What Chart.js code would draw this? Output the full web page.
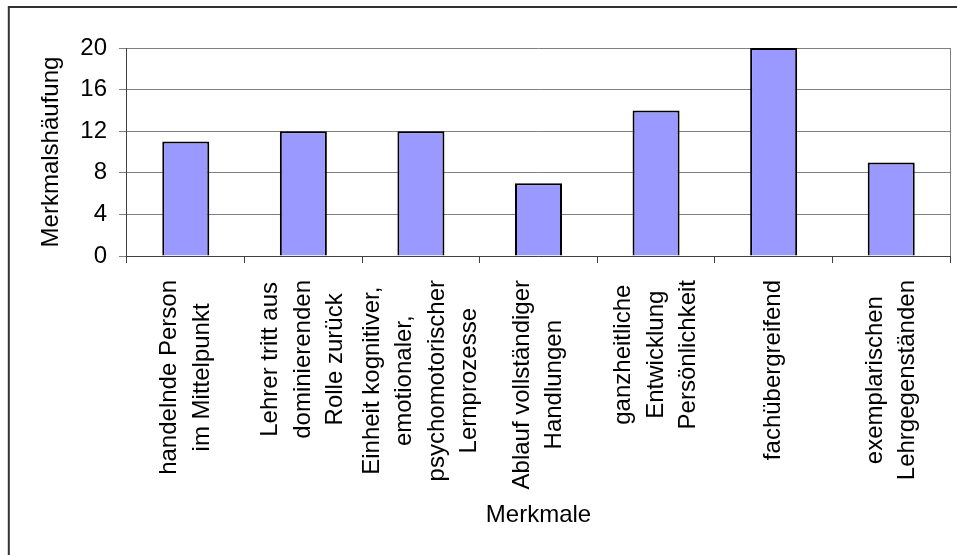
<!DOCTYPE html>
<html>
<head>
<meta charset="utf-8">
<script src="https://cdn.jsdelivr.net/npm/chart.js@4/dist/chart.umd.min.js"></script>
<style>
  html, body { margin: 0; padding: 0; background: #fff; }
  canvas { display: block; }
</style>
</head>
<body>
<canvas id="chart" width="957" height="555"></canvas>
<script>
// Categories (each entry is one label, split into its lines)
const categories = [
  ['handelnde Person', 'im Mittelpunkt'],
  ['Lehrer tritt aus', 'dominierenden', 'Rolle zurück'],
  ['Einheit kognitiver,', 'emotionaler,', 'psychomotorischer', 'Lernprozesse'],
  ['Ablauf vollständiger', 'Handlungen'],
  ['ganzheitliche', 'Entwicklung', 'Persönlichkeit'],
  ['fachübergreifend'],
  ['exemplarischen', 'Lehrgegenständen']
];
// How often each feature was counted
const counts = [11, 12, 12, 7, 14, 20, 9];
// Value axis ticks
const yTicks = [0, 4, 8, 12, 16, 20];
const yTitle = 'Merkmalshäufung';
const xTitle = 'Merkmale';

const FONT_FAMILY = '"Liberation Sans", Arial, sans-serif';
Chart.defaults.font.family = FONT_FAMILY;
Chart.defaults.font.size = 24;
Chart.defaults.color = '#000';

// White page background and the outer frame (top and left edge)
const frame = {
  id: 'frame',
  beforeDraw(chart) {
    const { ctx, width, height } = chart;
    ctx.save();
    ctx.fillStyle = '#fff';
    ctx.fillRect(0, 0, width, height);
    ctx.strokeStyle = '#333';
    ctx.lineWidth = 2;
    ctx.beginPath();
    ctx.moveTo(width, 7);
    ctx.lineTo(8.8, 7);
    ctx.lineTo(8.8, height);
    ctx.stroke();
    ctx.restore();
  }
};

// Right edge of the plot area
const plotEdge = {
  id: 'plotEdge',
  beforeDatasetsDraw(chart) {
    const { ctx, chartArea } = chart;
    const x = Math.round(chartArea.right) + 0.5;
    ctx.save();
    ctx.strokeStyle = '#808080';
    ctx.lineWidth = 1;
    ctx.beginPath();
    ctx.moveTo(x, chartArea.top);
    ctx.lineTo(x, chartArea.bottom);
    ctx.stroke();
    ctx.restore();
  }
};

// Vertical category labels, lines centred inside each label block
const categoryLabels = {
  id: 'categoryLabels',
  afterDraw(chart) {
    const { ctx } = chart;
    const x = chart.scales.x;
    const top = x.top + 24;
    const lineHeight = 32.5;
    ctx.save();
    ctx.font = '24px ' + FONT_FAMILY;
    ctx.fillStyle = '#000';
    ctx.textAlign = 'center';
    ctx.textBaseline = 'middle';
    chart.data.labels.forEach((lines, i) => {
      const cx = x.getPixelForValue(i);
      const w = Math.max(...lines.map(l => ctx.measureText(l).width));
      ctx.save();
      ctx.translate(cx, top + w / 2);
      ctx.rotate(-Math.PI / 2);
      lines.forEach((line, k) => {
        ctx.fillText(line, 0, (k - (lines.length - 1) / 2) * lineHeight);
      });
      ctx.restore();
    });
    ctx.restore();
  }
};

new Chart(document.getElementById('chart'), {
  type: 'bar',
  data: {
    labels: categories,
    datasets: [{
      data: counts,
      backgroundColor: '#9999FF',
      borderColor: '#000',
      borderWidth: 2,
      barPercentage: 0.4,
      categoryPercentage: 1.0
    }]
  },
  options: {
    responsive: false,
    animation: false,
    devicePixelRatio: 1,
    layout: { padding: { left: 10, right: 7, top: 48, bottom: 0 } },
    plugins: {
      legend: { display: false },
      tooltip: { enabled: false },
      title: { display: false }
    },
    scales: {
      x: {
        offset: true,
        grid: {
          offset: true,
          drawOnChartArea: false,
          drawTicks: true,
          tickLength: 7,
          color: '#404040',
          lineWidth: 1
        },
        border: { color: '#404040', width: 1 },
        ticks: { display: false },
        title: {
          display: true,
          text: xTitle,
          color: '#000',
          font: { size: 24 },
          padding: { top: 237.6, bottom: 25.6 }
        }
      },
      y: {
        min: yTicks[0],
        max: yTicks[yTicks.length - 1],
        afterBuildTicks(scale) {
          scale.ticks = yTicks.map(v => ({ value: v }));
        },
        ticks: { color: '#000', font: { size: 24 }, padding: 12 },
        grid: { color: '#808080', lineWidth: 1, tickLength: 8 },
        border: { color: '#404040', width: 1 },
        title: {
          display: true,
          text: yTitle,
          color: '#000',
          font: { size: 24 },
          padding: { top: 26.6, bottom: 2.9 }
        }
      }
    }
  },
  plugins: [frame, plotEdge, categoryLabels]
});
</script>
</body>
</html>
